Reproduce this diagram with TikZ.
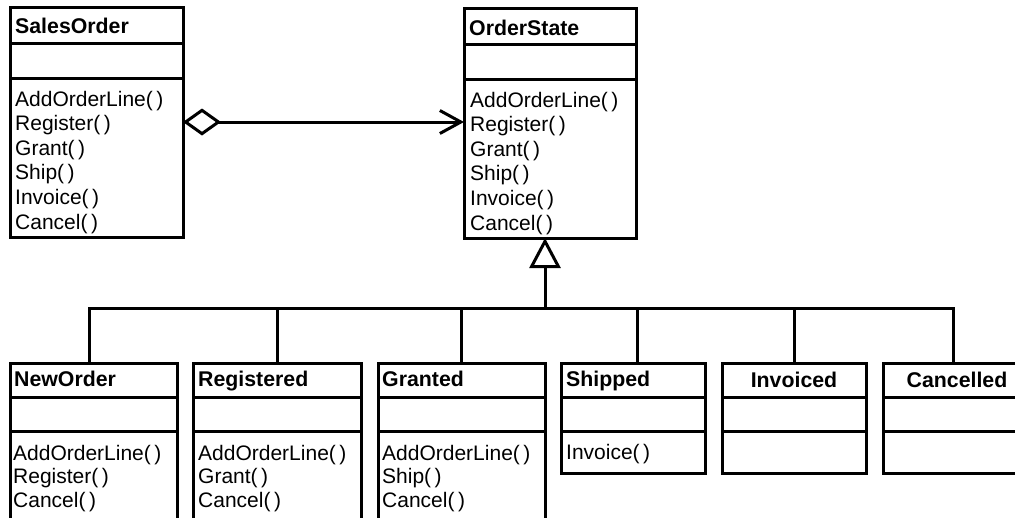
\documentclass[tikz,border=0pt]{standalone}
\usepackage{fontspec}
\setmainfont{Liberation Sans}
\usetikzlibrary{arrows.meta}

\tikzset{
  umlbox/.style={draw, rectangle, line width=3pt, inner sep=0pt, outer sep=0pt},
  part/.style={line width=3pt},
  ctitle/.style={font=\fontsize{21.3}{24}\selectfont\bfseries, anchor=base west, inner sep=0pt},
  ctitlemid/.style={ctitle, anchor=base},
  op/.style={font=\fontsize{21}{24}\selectfont, anchor=base west, inner sep=0pt},
  link/.style={line width=3pt},
}

% \classbox{name}{left}{right}{top}{bottom}{first separator}{second separator}
\newcommand\classbox[7]{%
  \node[umlbox, minimum width={(#3-#2)*1pt}, minimum height={(#5-#4)*1pt}]
    (#1) at ({(#2+#3)/2},{(#4+#5)/2}) {};
  \draw[part] ({#2},{#6}) -- ({#3},{#6});
  \draw[part] ({#2},{#7}) -- ({#3},{#7});
}

\begin{document}
\begin{tikzpicture}[x=1pt, y=-1pt]
  \useasboundingbox (0,0) rectangle (1015,517);
  \clip (0,0) rectangle (1015,517);

  % context and abstract state
  \classbox{so}{10}{183}{7}{237}{43}{78}
  \classbox{os}{464}{636}{8}{238}{44}{79}

  % concrete states
  \classbox{no}{10}{177}{363}{545}{397}{431}
  \classbox{re}{193}{361}{363}{545}{397}{431}
  \classbox{gr}{378}{545}{363}{545}{397}{431}
  \classbox{sh}{561}{705}{363}{473}{397}{431}
  \classbox{in}{722}{866}{363}{473}{397}{431}
  \classbox{ca}{883}{1031}{363}{473}{397}{431}

  % class names
  \node[ctitle] (so-t) at (15,33) {SalesOrder};
  \node[ctitle] (os-t) at (469,35) {OrderState};
  \node[ctitle] (no-t) at (14,386) {NewOrder};
  \node[ctitle] (re-t) at (198,386) {Registered};
  \node[ctitle] (gr-t) at (382,386) {Granted};
  \node[ctitle] (sh-t) at (566,386) {Shipped};
  \node[ctitlemid] (in-t) at (794,387) {Invoiced};
  \node[ctitlemid] (ca-t) at (957,387) {Cancelled};

  % operations
  \foreach \t [count=\i from 0] in {AddOrderLine(\,),Register(\,),Grant(\,),Ship(\,),Invoice(\,),Cancel(\,)} {
    \node[op] (so-op\i) at (15,{106+24.6*\i}) {\t};
    \node[op] (os-op\i) at (470,{107+24.6*\i}) {\t};
  }
  \foreach \t [count=\i from 0] in {AddOrderLine(\,),Register(\,),Cancel(\,)}
    \node[op] (no-op\i) at (13,{460+23.5*\i}) {\t};
  \foreach \t [count=\i from 0] in {AddOrderLine(\,),Grant(\,),Cancel(\,)}
    \node[op] (re-op\i) at (198,{460+23.5*\i}) {\t};
  \foreach \t [count=\i from 0] in {AddOrderLine(\,),Ship(\,),Cancel(\,)}
    \node[op] (gr-op\i) at (382,{460+23.5*\i}) {\t};
  \node[op] (sh-op0) at (566,459) {Invoice(\,)};

  % aggregation: SalesOrder holds its current OrderState
  \draw[link, {Diamond[open, length=38pt, width=27pt]}-{Straight Barb[length=21pt, width=23pt]}]
    (so.east) -- (so.east -| os.west);

  % generalization tree
  \coordinate (hub) at (545,308);
  \draw[link, -{Triangle[open, length=30pt, width=31pt]}] (hub) -- (hub |- os.south);
  \draw[link] ([xshift=-4pt]no.north) |- (hub) -| ([xshift=-4pt]ca.north);
  \draw[link] (re.north) -- (re.north |- hub);
  \draw[link] (gr.north) -- (gr.north |- hub);
  \draw[link] ([xshift=4pt]sh.north) -- ([xshift=4pt]sh.north |- hub);
  \draw[link] (in.north) -- (in.north |- hub);
\end{tikzpicture}
\end{document}
